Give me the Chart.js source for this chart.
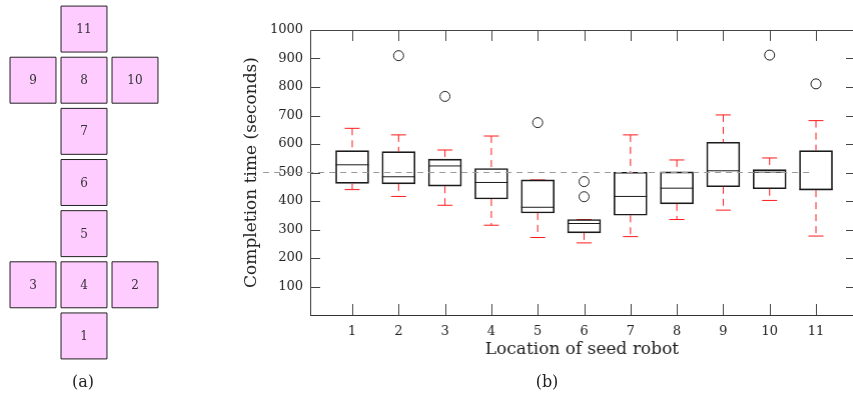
<!DOCTYPE html>
<html>
<head>
<meta charset="utf-8">
<script src="https://cdn.jsdelivr.net/npm/chart.js@4"></script>
<style>
  body { margin: 0; background: #fff; width: 853px; height: 399px; overflow: hidden; position: relative;
         font-family: "DejaVu Serif", serif; color: #222; }
  /* chart.js pads the plot by half the biggest point, so the boxes are widened by that much */
  #wrapA { position: absolute; left: -26.5px; top: -30.5px; width: 220px; height: 425px; }
  #wrapB { position: absolute; left: 230px; top: 0; width: 640.5px; height: 375px; }
  .cap { position: absolute; font-size: 16px; transform: translate(-50%, -50%); }
</style>
</head>
<body>
<div id="wrapA"><canvas id="layout"></canvas></div>
<div id="wrapB"><canvas id="boxes"></canvas></div>
<div class="cap" style="left:83px; top:381px">(a)</div>
<div class="cap" style="left:547px; top:381px">(b)</div>
<script>
// (a) where each seed robot sits in the shape
let robotIds = ["1", "2", "3", "4", "5", "6", "7", "8", "9", "10", "11"];
let gridX = [0, 1, -1, 0, 0, 0, 0, 0, -1, 1, 0];
let gridY = [0, 1, 1, 1, 2, 3, 4, 5, 5, 5, 6];

// (b) completion time per seed location
let locations = [1, 2, 3, 4, 5, 6, 7, 8, 9, 10, 11];
let whiskerLow = [440, 416, 385, 315, 272, 253, 275, 335, 368, 402, 277];
let boxLow = [462, 460, 452, 407, 358, 288, 350, 390, 450, 443, 438];
let medians = [527, 485, 523, 465, 378, 321, 416, 445, 506, 501, 441];
let boxHigh = [577, 573, 547, 514, 474, 335, 501, 502, 606, 510, 577];
let whiskerHigh = [655, 632, 579, 628, 474, 335, 632, 544, 702, 551, 682];
let outlierX = [2, 3, 5, 6, 6, 10, 11];
let outlierY = [910, 767, 675, 415, 468, 912, 811];
let refValue = 500;
let refFrom = -0.92;
let refTo = 10.89;

Chart.defaults.font.family = "'DejaVu Serif', serif";
Chart.defaults.color = "#222";

// numbers inside the squares
const cellLabels = {
    id: "cellLabels",
    afterDatasetsDraw(chart) {
        let ctx = chart.ctx;
        let meta = chart.getDatasetMeta(0);
        ctx.save();
        ctx.font = "12px 'DejaVu Serif', serif";
        ctx.fillStyle = "#333";
        ctx.textAlign = "center";
        ctx.textBaseline = "middle";
        meta.data.forEach((pt, i) => {
            ctx.fillText(robotIds[i], pt.x, pt.y + 1);
        });
        ctx.restore();
    },
};

new Chart(document.getElementById("layout"), {
    type: "scatter",
    data: {
        datasets: [
            {
                data: robotIds.map((id, i) => ({ x: gridX[i], y: gridY[i] })),
                pointStyle: "rect",
                pointRadius: 32.5,
                pointBackgroundColor: "#ffccff",
                pointBorderColor: "#222",
                pointBorderWidth: 1,
                clip: false,
            },
        ],
    },
    options: {
        animation: false,
        events: [],
        responsive: true,
        maintainAspectRatio: false,
        layout: { padding: 0 },
        scales: {
            x: { display: false, min: -1.5, max: 1.5 },
            y: { display: false, min: -0.5, max: 6.5 },
        },
        plugins: { legend: { display: false }, tooltip: { enabled: false } },
    },
    plugins: [cellLabels],
});

// ticks pointing into the plot, plus the top frame line
const innerTicks = {
    id: "innerTicks",
    afterDatasetsDraw(chart) {
        let ctx = chart.ctx;
        let a = chart.chartArea;
        let xs = chart.scales.x;
        let ys = chart.scales.y;
        ctx.save();
        ctx.strokeStyle = "#444";
        ctx.lineWidth = 1;
        ctx.beginPath();
        ctx.moveTo(a.left, a.top + 0.5);
        ctx.lineTo(a.right, a.top + 0.5);
        xs.ticks.forEach((t) => {
            let px = Math.round(xs.getPixelForValue(t.value)) + 0.5;
            ctx.moveTo(px, a.bottom);
            ctx.lineTo(px, a.bottom - 11);
            ctx.moveTo(px, a.top);
            ctx.lineTo(px, a.top + 11);
        });
        ys.ticks.forEach((t) => {
            if (t.value === 0) return;
            let py = Math.round(ys.getPixelForValue(t.value)) + 0.5;
            ctx.moveTo(a.left, py);
            ctx.lineTo(a.left + 10, py);
            ctx.moveTo(a.right - 8, py);
            ctx.lineTo(a.right, py);
        });
        ctx.stroke();
        ctx.restore();
    },
};

let whiskerPts = [];
locations.forEach((loc, i) => {
    whiskerPts.push({ x: loc, y: whiskerHigh[i] }, { x: loc, y: boxHigh[i] }, { x: loc, y: null });
    whiskerPts.push({ x: loc, y: boxLow[i] }, { x: loc, y: whiskerLow[i] }, { x: loc, y: null });
});
let capPts = [];
locations.forEach((loc, i) => {
    capPts.push({ x: loc, y: whiskerHigh[i] }, { x: loc, y: whiskerLow[i] });
});

new Chart(document.getElementById("boxes"), {
    type: "bar",
    data: {
        datasets: [
            {
                type: "line",
                data: [
                    { x: refFrom, y: refValue },
                    { x: refTo, y: refValue },
                ],
                borderColor: "#9a9a9a",
                borderWidth: 1,
                borderDash: [6, 5],
                pointRadius: 0,
                clip: false,
            },
            {
                type: "line",
                data: whiskerPts,
                borderColor: "#ff1a1a",
                borderWidth: 1,
                borderDash: [7, 5],
                pointRadius: 0,
                spanGaps: false,
            },
            {
                type: "bar",
                data: locations.map((loc, i) => ({ x: loc, y: [boxLow[i], boxHigh[i]] })),
                backgroundColor: "rgba(0,0,0,0)",
                borderColor: "#1a1a1a",
                borderWidth: 1,
                borderSkipped: false,
                barThickness: 33,
            },
            {
                type: "scatter",
                data: locations.map((loc, i) => ({ x: loc, y: medians[i] })),
                pointStyle: "line",
                pointRadius: 16.5,
                pointBorderColor: "#1a1a1a",
                pointBorderWidth: 1,
            },
            {
                type: "scatter",
                data: capPts,
                pointStyle: "line",
                pointRadius: 7.5,
                pointBorderColor: "#ff1a1a",
                pointBorderWidth: 1,
            },
            {
                type: "scatter",
                data: outlierX.map((loc, i) => ({ x: loc, y: outlierY[i] })),
                pointStyle: "circle",
                pointRadius: 5,
                pointBackgroundColor: "rgba(0,0,0,0)",
                pointBorderColor: "#1a1a1a",
                pointBorderWidth: 1,
            },
        ],
    },
    options: {
        animation: false,
        events: [],
        responsive: true,
        maintainAspectRatio: false,
        layout: { padding: { top: 30, left: 0, right: 0, bottom: 0 } },
        scales: {
            x: {
                type: "linear",
                offset: false,
                min: 0.093,
                max: 11.82,
                grid: { display: false, drawTicks: false },
                border: { display: true, color: "#333", width: 1 },
                afterBuildTicks: (scale) => {
                    scale.ticks = locations.map((v) => ({ value: v }));
                },
                afterFit: (scale) => {
                    scale.height = 60;
                },
                ticks: { padding: 9, font: { size: 13 }, color: "#222" },
                title: {
                    display: true,
                    text: "Location of seed robot",
                    font: { size: 17, lineHeight: 1.2 },
                    padding: { top: 0, bottom: 15 },
                    color: "#222",
                },
            },
            y: {
                min: 0,
                max: 1000,
                grid: { display: false, drawTicks: false },
                border: { display: true, color: "#333", width: 1 },
                afterFit: (scale) => {
                    scale.width = 80;
                },
                ticks: {
                    stepSize: 100,
                    padding: 7,
                    font: { size: 13 },
                    color: "#222",
                    callback: (v) => (v === 0 ? "" : v),
                },
                title: {
                    display: true,
                    text: "Completion time (seconds)",
                    font: { size: 17, lineHeight: 1.2 },
                    padding: { top: 11, bottom: 0 },
                    color: "#222",
                },
            },
        },
        plugins: { legend: { display: false }, tooltip: { enabled: false } },
    },
    plugins: [innerTicks],
});
</script>
</body>
</html>
